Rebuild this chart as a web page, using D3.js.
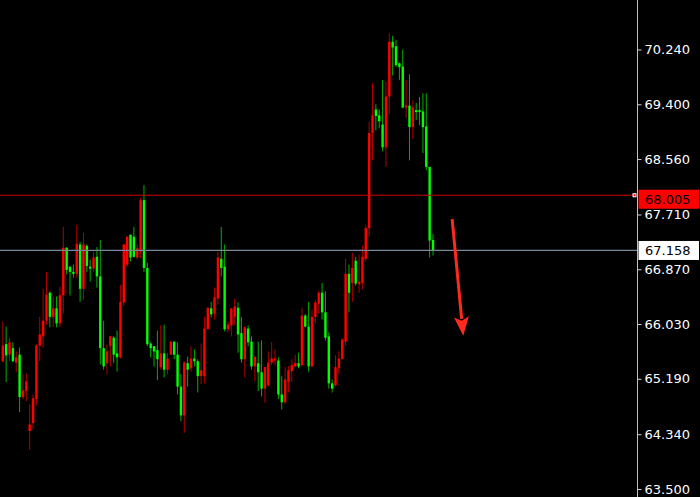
<!DOCTYPE html>
<html><head><meta charset="utf-8">
<script src="https://cdn.jsdelivr.net/npm/d3@7"></script>
<style>html,body{margin:0;padding:0;background:#000;overflow:hidden}</style>
</head><body>
<svg id="c" width="700" height="497"></svg>
<script>
// ---- data ----
const opens = [65.46,65.72,65.56,65.66,65.44,65.56,64.91,65.00,64.39,64.51,
 64.88,65.70,65.84,66.08,66.51,66.14,66.27,66.04,66.47,67.20,
 66.91,66.83,66.80,67.25,66.57,67.23,66.91,66.88,67.06,66.76,
 65.66,65.43,65.69,65.82,65.58,65.52,66.36,66.94,67.40,67.37,
 67.05,67.14,67.93,66.89,65.73,65.69,65.63,65.37,65.58,65.33,
 65.56,65.76,65.56,65.07,64.63,65.43,65.35,65.50,65.46,65.23,
 65.23,65.95,66.27,66.19,66.42,67.03,66.91,65.95,66.01,66.14,
 66.28,65.89,65.49,65.96,65.76,65.38,65.43,65.29,65.04,65.09,
 65.44,65.47,65.47,64.95,64.83,65.14,65.31,65.38,65.43,65.40,
 66.16,65.99,65.38,66.14,66.34,66.51,66.21,65.84,65.12,65.09,
 65.35,65.49,65.76,66.80,66.66,67.00,66.64,66.66,67.03,67.50,
 68.96,69.32,69.23,69.09,68.74,69.52,70.36,70.29,70.03,69.98,
 69.35,69.38,69.05,69.31,69.31,69.29,69.06,68.44,67.32];
const highs = [66.07,65.99,65.82,65.75,65.61,65.67,65.26,65.27,64.80,64.95,
 65.72,66.14,66.57,66.83,66.53,66.45,66.45,66.60,67.52,67.21,
 66.91,66.94,67.55,67.29,67.43,67.25,67.02,67.14,67.21,67.32,
 66.08,65.72,65.85,65.84,65.93,66.63,67.25,67.37,67.40,67.52,
 67.25,67.96,68.16,66.97,65.75,65.69,65.93,66.01,66.02,65.59,
 65.76,65.76,65.75,65.26,65.46,65.53,65.69,65.64,65.49,65.73,
 66.14,66.28,66.37,66.59,67.14,67.52,67.25,66.07,66.27,66.42,
 66.36,66.14,65.99,66.01,65.84,65.53,65.76,65.78,65.37,65.61,
 65.75,65.64,65.52,65.23,65.37,65.38,65.49,65.56,65.59,66.28,
 66.18,66.37,66.25,66.40,66.54,66.66,66.53,65.90,65.18,65.55,
 65.61,65.81,67.03,66.94,67.12,67.06,67.09,67.23,67.55,69.13,
 69.72,69.40,69.32,69.77,69.75,70.49,70.45,70.39,70.04,70.24,
 69.77,69.86,69.46,69.42,69.51,69.57,69.57,68.44,67.41];
const lows = [65.44,65.14,65.46,65.44,65.29,64.68,64.88,64.85,64.10,64.42,
 64.78,65.46,65.67,66.02,65.98,65.99,65.98,65.98,66.19,66.79,
 66.47,66.74,66.74,66.37,66.40,66.83,66.68,66.83,66.59,65.41,
 65.33,65.26,65.38,65.43,65.30,65.50,66.31,66.91,66.99,67.05,
 67.02,67.04,66.83,65.69,65.52,65.38,65.17,65.33,65.21,65.26,
 65.56,65.49,64.95,64.54,64.36,65.07,65.30,65.38,64.98,65.11,
 65.12,65.95,66.13,66.10,66.33,66.76,65.92,65.90,65.84,66.01,
 65.59,65.44,65.21,65.69,65.33,65.15,65.00,64.92,64.82,65.07,
 65.40,65.40,64.88,64.72,64.80,64.98,65.14,65.37,65.35,65.38,
 65.98,65.30,65.37,66.04,66.19,66.10,65.78,65.04,64.98,65.07,
 65.26,65.49,65.70,66.21,66.37,66.62,66.51,66.56,66.99,67.37,
 68.54,69.00,69.03,68.68,68.44,69.25,69.84,69.97,69.77,69.34,
 69.19,68.54,68.87,69.16,69.08,68.65,68.39,67.05,67.08];
const closes = [65.70,65.55,65.75,65.46,65.52,64.91,65.01,65.15,64.49,64.89,
 65.70,65.87,66.08,66.48,66.14,66.27,66.04,66.47,67.20,66.86,
 66.83,66.80,67.26,66.57,67.25,66.92,66.88,67.05,66.76,65.66,
 65.38,65.61,65.84,65.56,65.52,66.37,67.25,67.37,67.05,67.06,
 67.19,67.93,66.89,65.72,65.66,65.61,65.49,65.58,65.33,65.50,
 65.76,65.56,65.07,64.63,65.44,65.33,65.50,65.46,65.23,65.32,
 65.96,66.28,66.18,66.44,67.05,66.89,65.95,66.02,66.27,66.30,
 65.87,65.49,65.98,65.75,65.38,65.53,65.29,65.04,65.37,65.44,
 65.50,65.50,64.95,64.83,65.18,65.32,65.40,65.43,65.38,66.16,
 65.99,65.38,66.14,66.36,66.51,66.21,65.82,65.12,65.04,65.37,
 65.50,65.79,66.80,66.51,66.89,66.65,66.68,67.06,67.50,68.96,
 69.23,69.22,69.14,68.74,69.52,70.36,70.27,70.00,69.97,69.35,
 69.38,69.05,69.35,69.28,69.28,69.05,68.44,67.31,67.158];
const categories = d3.range(opens.length);
const tickLabels = ["70.240","69.400","68.560","67.710","66.870","66.030","65.190","64.340","63.500"];
const tickValues = tickLabels.map(Number);
const redLevel = 68.005;
const redLevelLabel = "68.005";
const bidPrice = 67.158;
const bidLabel = "67.158";
const arrowFrom = [133.7, 67.64];
const arrowTo = [137.0, 65.85];

// ---- drawing ----
const W = 700, H = 497, axisX = 637.5;
const svg = d3.select("#c");
svg.append("rect").attr("width", W).attr("height", H).attr("fill", "#000");

const x = d3.scaleLinear().domain([0, categories.length - 1]).range([2.8, 433]);
const y = d3.scaleLinear().domain([63.5, 70.24]).range([489, 49.5]);

const bull = "#ff0000", bear = "#00ff00";
const bullWick = "#b00000", bearWick = "#00b000";
const bars = categories.map(i => ({i, o: opens[i], h: highs[i], l: lows[i], c: closes[i]}));

const g = svg.append("g");
g.selectAll("line.wick").data(bars).join("line")
  .attr("class", "wick")
  .attr("x1", d => x(d.i)).attr("x2", d => x(d.i))
  .attr("y1", d => y(d.h)).attr("y2", d => y(d.l))
  .attr("stroke", d => d.c >= d.o ? bullWick : bearWick)
  .attr("stroke-width", 1);
g.selectAll("rect.body").data(bars).join("rect")
  .attr("class", "body")
  .attr("x", d => x(d.i) - 1.2)
  .attr("width", 2.4)
  .attr("y", d => y(Math.max(d.o, d.c)))
  .attr("height", d => Math.max(1, Math.abs(y(d.o) - y(d.c))))
  .attr("fill", d => d.c >= d.o ? bull : bear);

// horizontal levels
svg.append("line").attr("x1", 0).attr("x2", axisX - 4)
  .attr("y1", y(redLevel)).attr("y2", y(redLevel))
  .attr("stroke", "#d00000").attr("stroke-width", 1);
svg.append("line").attr("x1", 0).attr("x2", axisX)
  .attr("y1", y(bidPrice)).attr("y2", y(bidPrice))
  .attr("stroke", "#778899").attr("stroke-width", 1.2);
svg.append("rect").attr("x", axisX - 4.5).attr("y", y(redLevel) - 1.5)
  .attr("width", 3).attr("height", 3).attr("fill", "#ff0000")
  .attr("stroke", "#ffffff").attr("stroke-width", 1);

// axis
svg.append("line").attr("x1", axisX).attr("x2", axisX).attr("y1", 0).attr("y2", H)
  .attr("stroke", "#c0c0c0").attr("stroke-width", 1);
const axis = d3.axisRight(y).tickValues(tickValues)
  .tickFormat((d, i) => tickLabels[i]).tickSize(4).tickSizeOuter(0).tickPadding(3);
const ag = svg.append("g").attr("transform", `translate(${axisX},0)`).call(axis);
ag.select(".domain").remove();
ag.selectAll(".tick line").attr("stroke", "#d0d0d0");
ag.selectAll(".tick text").attr("fill", "#ffffff")
  .style("font-family", "'DejaVu Sans', Verdana, sans-serif").style("font-size", "13px");

// price labels
function priceBox(val, label, top, bg, fg) {
  svg.append("rect").attr("x", axisX + 1).attr("y", y(val) - top)
    .attr("width", W - axisX - 2).attr("height", 19).attr("fill", bg);
  svg.append("text").attr("x", axisX + 7.5).attr("y", y(val) - top + 9.5)
    .attr("dy", "0.35em").attr("fill", fg)
    .style("font-family", "'DejaVu Sans', Verdana, sans-serif").style("font-size", "13px")
    .text(label);
}
priceBox(redLevel, redLevelLabel, 5.5, "#ff0000", "#000000");
priceBox(bidPrice, bidLabel, 9.5, "#ffffff", "#000000");

// red arrow annotation
const p0 = [x(arrowFrom[0]), y(arrowFrom[1])];
const p1 = [x(arrowTo[0]), y(arrowTo[1])];
const dx = p1[0] - p0[0], dy = p1[1] - p0[1];
const len = Math.hypot(dx, dy), ux = dx / len, uy = dy / len;
const headL = 19, headW = 7.5;
const b = [p1[0] - ux * headL, p1[1] - uy * headL];
svg.append("line").attr("x1", p0[0]).attr("y1", p0[1]).attr("x2", b[0] + ux * 2).attr("y2", b[1] + uy * 2)
  .attr("stroke", "#ff2a1e").attr("stroke-width", 3);
svg.append("path")
  .attr("d", d3.line()([p1, [b[0] - uy * headW, b[1] + ux * headW], [b[0] + ux * 4, b[1] + uy * 4], [b[0] + uy * headW, b[1] - ux * headW]]) + "Z")
  .attr("fill", "#ff2a1e");
</script>
</body></html>
